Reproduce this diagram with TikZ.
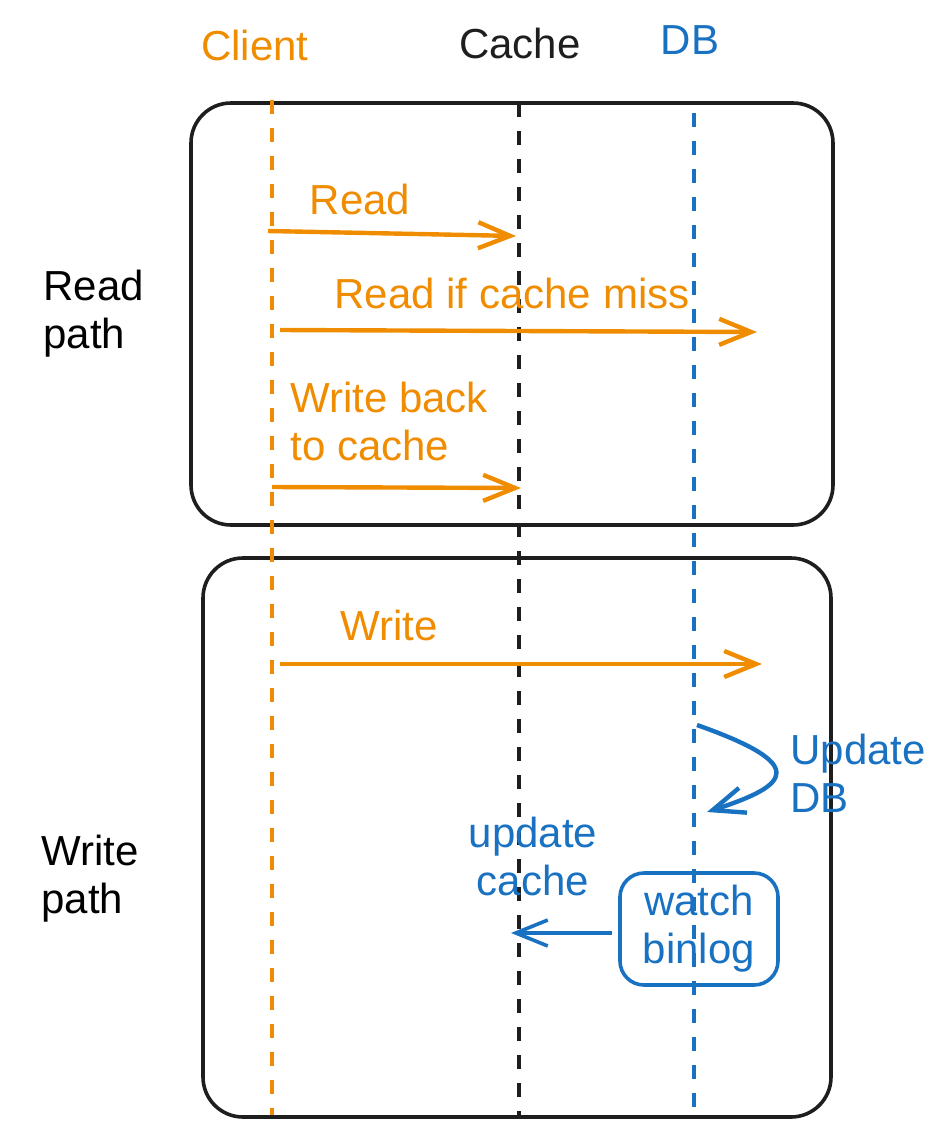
\documentclass[tikz,border=0pt]{standalone}
\usepackage{fontspec}
\setmainfont{Liberation Sans}
\usetikzlibrary{arrows.meta}
\definecolor{clientorange}{HTML}{F08C00}
\definecolor{dbblue}{HTML}{1971C2}
\definecolor{inkblack}{HTML}{1E1E1E}

\begin{document}
\begin{tikzpicture}[x=0.5pt,y=-0.5pt]
		\newcommand{\clx}{272} % client lifeline
		\newcommand{\cax}{519} % cache lifeline
		\newcommand{\dbx}{694} % db lifeline
		\newcommand{\rad}{20pt} % radii of the box corners

		% set the styles
		\tikzset{
			txt/.style={font=\fontsize{21}{24}\selectfont, inner sep=0pt},
			lifeline/.style={dash pattern=on 7pt off 7pt, line width=1.8pt},
			msg/.style={-{Straight Barb[length=16pt,width=13pt]}, line width=2.2pt},
			pathbox/.style={draw=inkblack, line width=1.8pt, rounded corners=\rad}
		}

		\useasboundingbox (0,0) rectangle (949,1141);

		% boxes
		\draw[pathbox] (191,103) rectangle (833,525);
		\draw[pathbox] (203,558) rectangle (831,1117);

		% headers
		\node[txt, text=clientorange] (client) at (255,45) {Client};
		\node[txt, text=inkblack] (cache) at (520,43) {Cache};
		\node[txt, text=dbblue] (db) at (690,40) {DB};

		% lifelines
		\draw[lifeline, clientorange] (\clx,100) -- (\clx,1115);
		\draw[lifeline, inkblack] (\cax,103) -- (\cax,1118);
		\draw[lifeline, dbblue] (\dbx,113) -- (\dbx,1120);

		% side labels
		\node[txt, align=left, anchor=west] (readpath) at (43,314) {Read\\path};
		\node[txt, align=left, anchor=west] (writepath) at (41,879) {Write\\path};

		% read path
		\coordinate (r1s) at (268,231);
		\coordinate (r1e) at (516,236);
		\draw[msg, clientorange] (r1s) -- (r1e);
		\node[txt, text=clientorange] (readlbl) at (360,199) {Read};

		\coordinate (r2s) at (280,330);
		\coordinate (r2e) at (757,332);
		\draw[msg, clientorange] (r2s) -- (r2e);
		\node[txt, text=clientorange] (misslbl) at (512,293) {Read if cache miss};

		\coordinate (r3s) at (272,487);
		\coordinate (r3e) at (521,488);
		\draw[msg, clientorange] (r3s) -- (r3e);
		\node[txt, text=clientorange, align=left, anchor=west] (backlbl) at (290,421) {Write back\\to cache};

		% write path
		\coordinate (w1s) at (280,664);
		\coordinate (w1e) at (762,664);
		\draw[msg, clientorange] (w1s) -- (w1e);
		\node[txt, text=clientorange] (writelbl) at (389,625) {Write};

		\coordinate (u1s) at (697,725);
		\coordinate (u1e) at (707,812);
		\draw[msg, dbblue] (u1s) .. controls (810,765) and (790,785) .. (u1e);
		\node[txt, text=dbblue, align=left, anchor=west] (updlbl) at (790,773) {Update\\DB};

		\node[txt, text=dbblue, draw=dbblue, line width=1.8pt, rounded corners=12pt,
			minimum width=79pt, minimum height=56pt, align=center] (binlog) at (699,929) {watch\\binlog};
		\coordinate (b1e) at (511,933);
		\draw[msg, dbblue, line width=1.8pt] (binlog.west) ++(-6,4) -- (b1e);
		\node[txt, text=dbblue, align=center] (cachelbl) at (533,856) {update\\cache};
\end{tikzpicture}
\end{document}
